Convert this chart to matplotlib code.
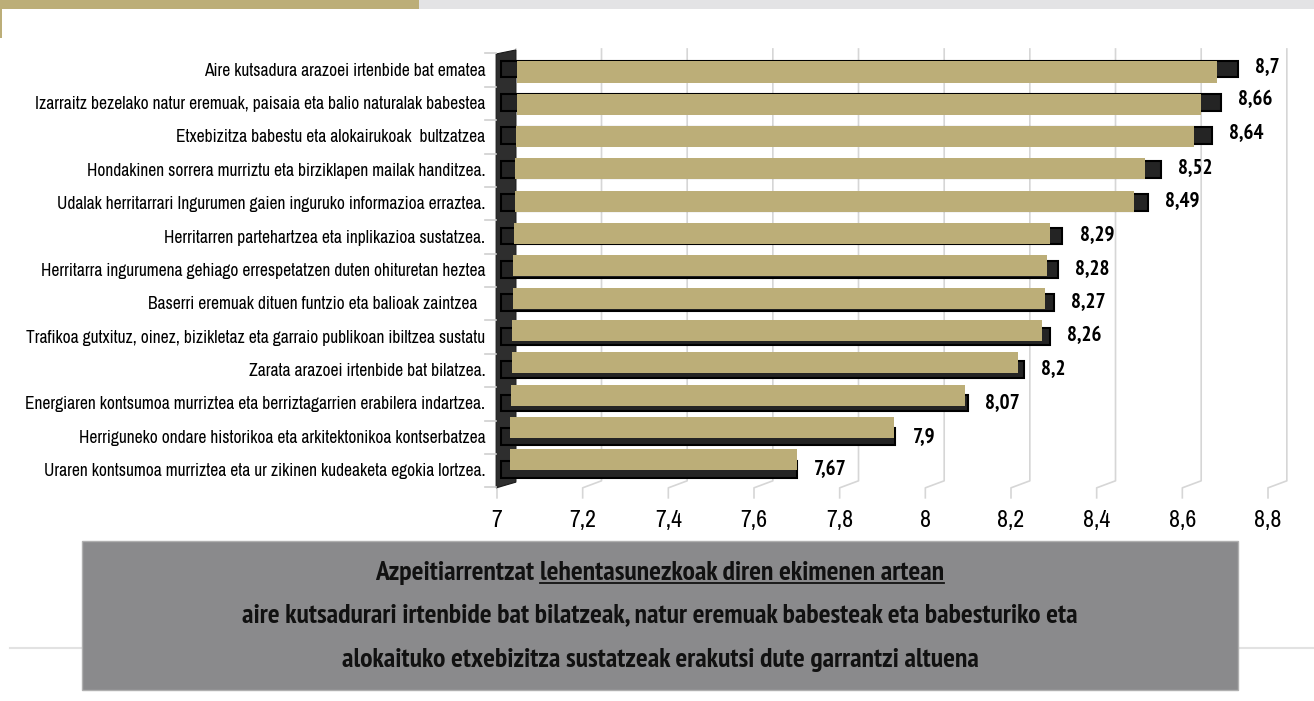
import matplotlib
matplotlib.use('Agg')
import matplotlib.pyplot as plt
from matplotlib import font_manager
from matplotlib.patches import Rectangle, Polygon
from matplotlib.lines import Line2D

# letra estrecha (tipo Arial Narrow), normala eta lodia
fonts = font_manager.fontManager.ttflist
cands = ['Liberation Sans Narrow', 'Arial Narrow', 'Archivo Narrow', 'PT Sans Narrow',
         'Roboto Condensed', 'IBM Plex Sans Condensed', 'Open Sans Condensed']

def aukeratu(ok):
    for c in cands:
        if any(f.name == c and ok(f) for f in fonts):
            return c
    return 'Liberation Sans'

def wnum(f):
    try:
        return int(f.weight)
    except (TypeError, ValueError):
        return 700 if 'bold' in str(f.weight) else 400

NARROW = aukeratu(lambda f: f.style == 'normal' and 380 <= wnum(f) <= 450)
NARROW_B = aukeratu(lambda f: f.style == 'normal' and wnum(f) >= 700)
plt.rcParams['font.family'] = [NARROW, 'DejaVu Sans']
BOLD = dict(family=[NARROW_B, 'DejaVu Sans'], fontweight='bold')

# datos
ekimenak = [
    'Aire kutsadura arazoei irtenbide bat ematea',
    'Izarraitz bezelako natur eremuak, paisaia eta balio naturalak babestea',
    'Etxebizitza babestu eta alokairukoak  bultzatzea',
    'Hondakinen sorrera murriztu eta birziklapen mailak handitzea.',
    'Udalak herritarrari Ingurumen gaien inguruko informazioa erraztea.',
    'Herritarren partehartzea eta inplikazioa sustatzea.',
    'Herritarra ingurumena gehiago errespetatzen duten ohituretan heztea',
    'Baserri eremuak dituen funtzio eta balioak zaintzea  ',
    'Trafikoa gutxituz, oinez, bizikletaz eta garraio publikoan ibiltzea sustatu',
    'Zarata arazoei irtenbide bat bilatzea.',
    'Energiaren kontsumoa murriztea eta berriztagarrien erabilera indartzea.',
    'Herriguneko ondare historikoa eta arkitektonikoa kontserbatzea',
    'Uraren kontsumoa murriztea eta ur zikinen kudeaketa egokia lortzea.',
]
balioak = [8.7, 8.66, 8.64, 8.52, 8.49, 8.29, 8.28, 8.27, 8.26, 8.2, 8.07, 7.9, 7.67]
ardatza = [7, 7.2, 7.4, 7.6, 7.8, 8, 8.2, 8.4, 8.6, 8.8]
oharra = ['Azpeitiarrentzat ', 'lehentasunezkoak diren ekimenen artean',
          'aire kutsadurari irtenbide bat bilatzeak, natur eremuak babesteak eta babesturiko eta',
          'alokaituko etxebizitza sustatzeak erakutsi dute garrantzi altuena']

W, H = 1314, 701
fig = plt.figure(figsize=(W / 100, H / 100), dpi=100)
fig.patch.set_facecolor('white')
r = fig.canvas.get_renderer()

def px(x, y):
    return (x / W, 1 - y / H)

def fit(s, width, **kw):
    # tamaina, testuak pixel zabalera hau izan dezan
    t = fig.text(0, 0, s, fontsize=10, **kw)
    w = t.get_window_extent(r).width
    t.remove()
    return 10 * width / w

fs_lab = fit(ekimenak[1], 452)
fs_val = fit('8,66', 35, **BOLD)
fs_tick = fit('7,2', 27)
fs_box = fit(oharra[2], 840, **BOLD)

# goiko banda
fig.add_artist(Rectangle(px(0, 9), 419 / W, 9 / H, transform=fig.transFigure, color='#bcae78', lw=0))
fig.add_artist(Rectangle(px(419, 9), (W - 419) / W, 9 / H, transform=fig.transFigure, color='#e3e3e5', lw=0))
fig.add_artist(Rectangle(px(0, 38), 2 / W, 29 / H, transform=fig.transFigure, color='#bcae78', lw=0))
fig.add_artist(Line2D([10 / W, 1], [1 - 648 / H] * 2, transform=fig.transFigure, color='#e2e2e2',
                      lw=1.5, zorder=0))

ax = fig.add_axes([497 / W, 1 - 491.5 / H, (1268 - 497) / W, (491.5 - 47.3) / H])
ax.set_xlim(7, 8.8)
ax.set_ylim(12.65, -0.65)
for s in ax.spines.values():
    s.set_visible(False)

n = len(balioak)
off = 0.044
# atzeko sareta eta lurra
for t in ardatza:
    ax.plot([t + off, t + off, t, t], [-0.6, 12.33, 12.54, 12.84], color='#d6d6d6', lw=1.2,
            clip_on=False, zorder=0)
# ezkerreko horma
ax.add_patch(Polygon([(6.998, -0.45), (7.044, -0.57), (7.044, 12.37), (6.998, 12.54)],
                     closed=True, facecolor='#2e2e2e', edgecolor='#1a1a1a', lw=0.8,
                     clip_on=False, zorder=2))
for i in range(n + 1):
    ax.plot([6.972, 6.998], [i - 0.47, i - 0.47], color='#cfcfcf', lw=1.2, clip_on=False)

for i, (lab, v) in enumerate(zip(ekimenak, balioak)):
    k = i / (n - 1)
    # itzala
    ax.barh(i, v + 0.03 - 7.01, left=7.01, height=0.5, color='#242424', edgecolor='black',
            lw=1.5, zorder=3)
    ys = 0.09 - 0.39 * k
    x0 = 7.047 - 0.017 * k
    x1 = v - 0.02 + 0.05 * k
    ax.barh(i + ys, x1 - x0, left=x0, height=0.63, color='#bcae78', lw=0, zorder=4)
    ax.text(v + 0.07, i - 0.08 + 0.08 * k, str(v).replace('.', ','), fontsize=fs_val,
            va='center', ha='left', zorder=5, **BOLD)

ax.set_yticks(range(n))
ax.set_yticklabels(ekimenak, fontsize=fs_lab)
ax.set_xticks(ardatza)
ax.set_xticklabels([('%g' % t).replace('.', ',') for t in ardatza], fontsize=fs_tick)
ax.tick_params(axis='y', length=0, pad=8.5)
ax.tick_params(axis='x', length=0, pad=13)

# beheko laukia
fig.add_artist(Rectangle(px(82, 690), (1238 - 82) / W, (690 - 541) / H, transform=fig.transFigure,
                         facecolor='#8a8a8c', edgecolor='#b0b0b0', lw=1, zorder=1))
cx = 660 / W
t1 = fig.text(cx, 1 - 573 / H, oharra[0], fontsize=fs_box, ha='left', va='center',
              color='#111111', zorder=3, **BOLD)
t2 = fig.text(cx, 1 - 573 / H, oharra[1], fontsize=fs_box, ha='left', va='center',
              color='#111111', zorder=3, **BOLD)
b1 = t1.get_window_extent(r)
b2 = t2.get_window_extent(r)
tot = b1.width + b2.width
start = 660 - tot / 2
t1.set_x(start / W)
t2.set_x((start + b1.width) / W)
uy = 1 - 583 / H
fig.add_artist(Line2D([(start + b1.width) / W, (start + tot) / W], [uy, uy], transform=fig.transFigure,
                      color='#111111', lw=1.3, zorder=3))
fig.text(cx, 1 - 615 / H, oharra[2], fontsize=fs_box, ha='center', va='center',
         color='#111111', zorder=3, **BOLD)
fig.text(cx, 1 - 660 / H, oharra[3], fontsize=fs_box, ha='center', va='center',
         color='#111111', zorder=3, **BOLD)

fig.savefig('out.png', dpi=100)
